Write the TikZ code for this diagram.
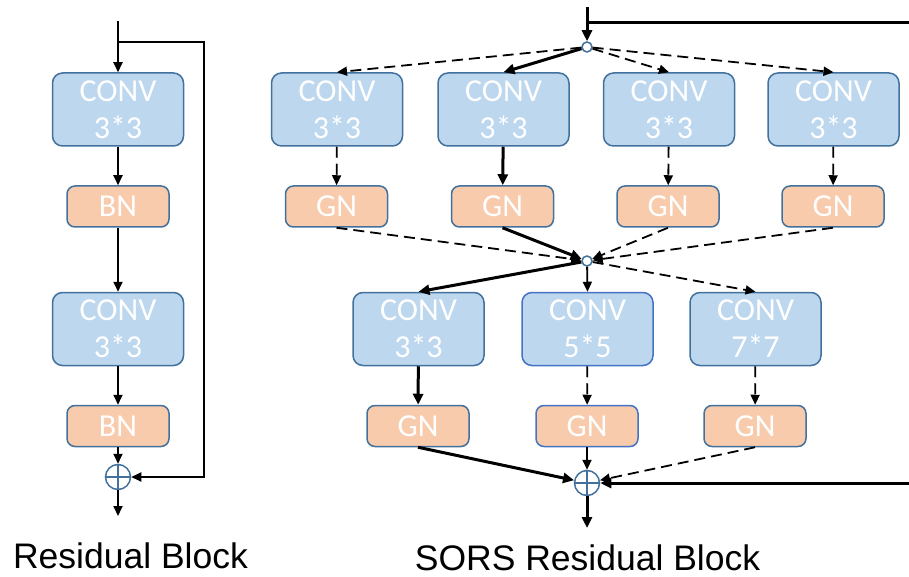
\documentclass[tikz,border=0pt]{standalone}
\usepackage{fontspec}
\newfontfamily\boxfont{Carlito}
\newfontfamily\labfont{Liberation Sans}
\usetikzlibrary{arrows.meta}
\definecolor{convfill}{HTML}{BDD7EE}
\definecolor{normfill}{HTML}{F8CBAD}
\definecolor{edgecol}{HTML}{41719C}
\definecolor{edgecolB}{HTML}{4472C4}
\begin{document}
\begin{tikzpicture}[x=1pt,y=-1pt,
 convbox/.style={draw=edgecol, fill=convfill, line width=1.5pt, rounded corners=10pt, minimum width=131pt, minimum height=73pt, inner sep=0pt, text=white, font={\boxfont\fontsize{32}{37}\selectfont}, align=center},
 normbox/.style={draw=edgecol, fill=normfill, line width=1.5pt, rounded corners=8pt, minimum width=102pt, minimum height=41pt, inner sep=0pt, text=white, font={\boxfont\fontsize{32}{36}\selectfont}},
 junc/.style={circle, draw=edgecol, fill=white, line width=1.5pt, minimum size=10pt, inner sep=0pt},
 addc/.style={circle, draw=edgecol, line width=1.5pt, minimum size=25pt, inner sep=0pt},
 arrthin/.style={line width=1.8pt, -{Triangle[length=10pt,width=9pt]}},
 arrthick/.style={line width=3pt, -{Triangle[length=11pt,width=10pt]}},
 arrdash/.style={line width=1.8pt, dash pattern=on 11pt off 6pt, -{Triangle[length=10pt,width=9pt]}},
 lab/.style={font={\labfont\fontsize{35.5}{40}\selectfont}, anchor=base, inner sep=0pt}
]
\useasboundingbox (0,0) rectangle (909,577);

% ---------- Residual Block ----------
\coordinate (Lin) at (118,21);
\coordinate (Lbr) at (118,42);
\coordinate (Lr1) at (204,42);
\coordinate (Lr2) at (204,477);
\coordinate (Lout) at (118,516);
\node[convbox] (L1) at (118,109.5) {CONV\\3*3};
\node[normbox] (LB1) at (118,206.5) {BN};
\node[convbox] (L2) at (118,329) {CONV\\3*3};
\node[normbox] (LB2) at (118,426) {BN};
\node[addc] (Ladd) at (118,477) {};
\draw[edgecol, line width=1.5pt] (Ladd.north) -- (Ladd.south) (Ladd.west) -- (Ladd.east);
\draw[arrthin] (Lin) -- (L1);
\draw[arrthin] (L1) -- (LB1);
\draw[arrthin] (LB1) -- (L2);
\draw[arrthin] (L2) -- (LB2);
\draw[arrthin] (LB2) -- (Ladd);
\draw[arrthin] (Ladd) -- (Lout);
\draw[arrthin] (Lbr) -- (Lr1) -- (Lr2) -- (Ladd);
\node[lab] (t1) at (130.5,568) {Residual Block};

% ---------- SORS Residual Block ----------
\coordinate (Sin) at (587,7);
\coordinate (Sbr) at (587,23);
\coordinate (Sr1) at (909,23);
\coordinate (Sr2) at (909,483);
\coordinate (Sout) at (587,528);
\node[junc] (J1) at (587,47) {};
\node[convbox] (cA) at (337,109.5) {CONV\\3*3};
\node[convbox] (cB) at (503.5,109.5) {CONV\\3*3};
\node[convbox] (cC) at (669,109.5) {CONV\\3*3};
\node[convbox] (cD) at (833.5,109.5) {CONV\\3*3};
\node[normbox] (gA) at (336.5,206.5) {GN};
\node[normbox] (gB) at (502.5,206.5) {GN};
\node[normbox] (gC) at (668,206.5) {GN};
\node[normbox] (gD) at (833,206.5) {GN};
\node[junc] (J2) at (587,261) {};
\node[convbox] (cE) at (418.5,329) {CONV\\3*3};
\node[convbox, draw=edgecolB] (cF) at (587.5,329) {CONV\\5*5};
\node[convbox] (cG) at (755.5,329) {CONV\\7*7};
\node[normbox] (hE) at (418,426) {GN};
\node[normbox, draw=edgecolB] (hF) at (587,426) {GN};
\node[normbox] (hG) at (755,426) {GN};
\node[addc] (Sadd) at (587,483) {};
\draw[edgecol, line width=1.5pt] (Sadd.north) -- (Sadd.south) (Sadd.west) -- (Sadd.east);

\draw[arrthick] (Sin) -- (J1);
\draw[line width=3pt] (Sbr) -- (Sr1);
\draw[arrthick] (Sr2) -- (Sadd);

\draw[arrdash] (J1) -- (cA.north);
\draw[arrthick] (J1) -- (cB.north);
\draw[arrdash] (J1) -- (cC.north);
\draw[arrdash] (J1) -- (cD.north);

\draw[arrdash] (cA) -- (gA);
\draw[arrthick] (cB) -- (gB);
\draw[arrdash] (cC) -- (gC);
\draw[arrdash] (cD) -- (gD);

\draw[arrdash] (gA.south) -- (J2);
\draw[arrthick] (gB.south) -- (J2);
\draw[arrdash] (gC.south) -- (J2);
\draw[arrdash] (gD.south) -- (J2);

\draw[arrthick] (J2) -- (cE.north);
\draw[arrthin] (J2) -- (cF.north);
\draw[arrdash] (J2) -- (cG.north);

\draw[arrthick] (cE) -- (hE);
\draw[arrdash] (cF) -- (hF);
\draw[arrdash] (cG) -- (hG);

\draw[arrthick] (hE.south) -- (Sadd);
\draw[line width=2.2pt, -{Triangle[length=10pt,width=9pt]}] (hF.south) -- (Sadd);
\draw[arrdash] (hG.south) -- (Sadd);
\draw[arrthick] (Sadd) -- (Sout);

\node[lab] (t2) at (587.5,570) {SORS Residual Block};
\end{tikzpicture}
\end{document}
